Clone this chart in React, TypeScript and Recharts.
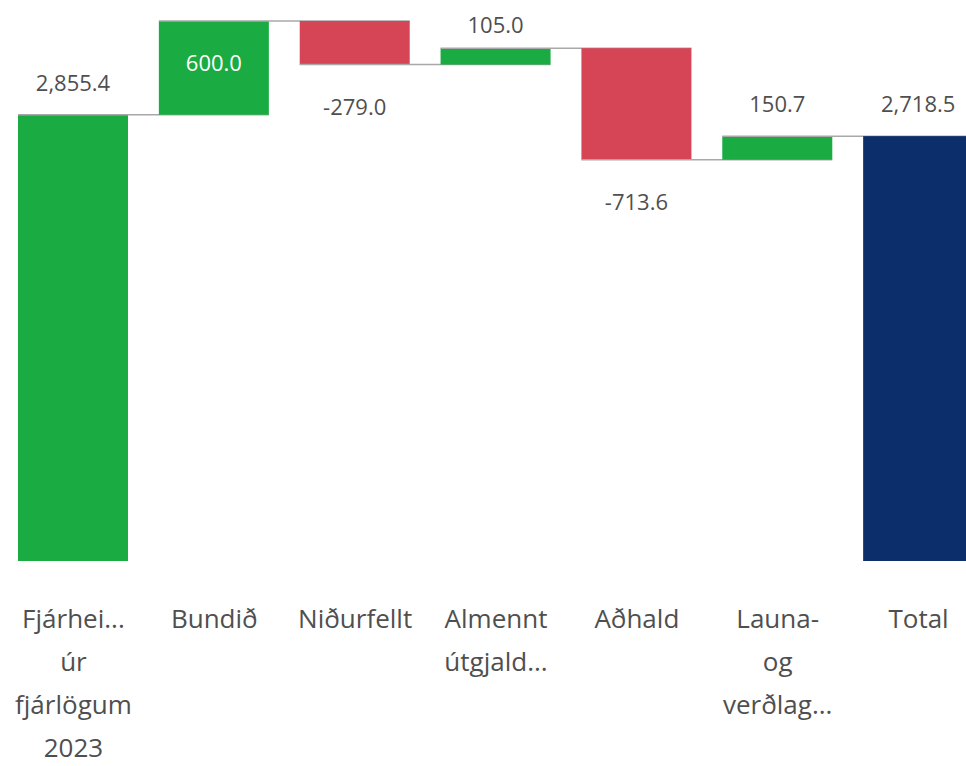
import React from 'react';
import {Bar, BarChart, XAxis, YAxis} from 'recharts';

const categories = [
  'Fjárhei...\núr\nfjárlögum\n2023',
  'Bundið',
  'Niðurfellt',
  'Almennt\nútgjald...',
  'Aðhald',
  'Launa-\nog\nverðlag...',
  'Total',
];
const changes = [2855.4, 600.0, -279.0, 105.0, -713.6, 150.7, 2718.5];
const kinds = ['total', 'up', 'down', 'up', 'down', 'up', 'total'];

const COLORS: { [key: string]: string } = {
  up: '#1AAB43',
  down: '#D64556',
  total: '#0C2F6B',
  start: '#1AAB43',
};

const CHART_W = 989;
const CHART_H = 766;
const MARGIN = {top: 14, right: 0, bottom: 0, left: 3};
const STEP = (CHART_W - MARGIN.left - MARGIN.right) / categories.length;
const FONT = '"Open Sans", "Noto Sans", sans-serif';
const TEXT = '#4f4f4f';

interface IRow {
  name: string;
  kind: string;
  delta: number;
  base: number;
  size: number;
}

const buildRows = (): IRow[] => {
  let running = 0;
  return categories.map((name, i) => {
    const d = changes[i];
    let kind = kinds[i];
    if (kind === 'total') {
      running = d;
      // first column is the starting amount, drawn green like the increases
      if (i === 0) kind = 'start';
      return {name, kind, delta: d, base: 0, size: d};
    }
    const start = running;
    running = start + d;
    return {name, kind, delta: d, base: Math.min(start, running), size: Math.abs(d)};
  });
};

const data = buildRows();

const fmt = (v: number) => v.toLocaleString('en-US', {minimumFractionDigits: 1, maximumFractionDigits: 1});

const WaterfallBar = (props: any) => {
  const {x, y, width, height, payload, index} = props;
  const row: IRow = payload;
  const negative = row.delta < 0;
  const level = negative ? y + height : y;
  const isLast = index === data.length - 1;

  let labelY = negative ? y + height + 50 : Math.max(y - 24, 33);
  let labelFill = TEXT;
  if (!negative && y < 30) {
    // no room above the bar, so the label goes inside
    labelY = y + 50;
    labelFill = '#ffffff';
  }

  return (
    <g>
      <rect x={x} y={y} width={width} height={height} fill={COLORS[row.kind]}/>
      {!isLast && <line
        x1={x}
        x2={x + STEP + width}
        y1={level}
        y2={level}
        stroke="#a8a8a8"
        strokeWidth={1.5}
      />}
      <text
        x={x + width / 2}
        y={labelY}
        textAnchor="middle"
        fontFamily={FONT}
        fontSize={22}
        fill={labelFill}
      >
        {fmt(row.delta)}
      </text>
    </g>
  );
};

const CategoryTick = (props: any) => {
  const {x, y, payload} = props;
  const lines = String(payload.value).split('\n');
  return (
    <text x={x} y={y} textAnchor="middle" fontFamily={FONT} fontSize={26} fill={TEXT}>
      {lines.map((line, i) => <tspan key={i} x={x} dy={i === 0 ? 67 : 43}>{line}</tspan>)}
    </text>
  );
};

const App = () => {
  return (
    <div style={{position: 'absolute', left: 0, top: 0, width: 966, height: 766, overflow: 'hidden', background: '#fff'}}>
      <BarChart width={CHART_W} height={CHART_H} data={data} margin={MARGIN} barSize={110}>
        <XAxis
          dataKey="name"
          axisLine={false}
          tickLine={false}
          tickSize={0}
          tickMargin={0}
          interval={0}
          height={205}
          tick={<CategoryTick/>}
        />
        <YAxis hide domain={[0, 3500]} type="number" allowDataOverflow/>
        <Bar dataKey="base" stackId="w" fill="transparent" isAnimationActive={false}/>
        <Bar dataKey="size" stackId="w" shape={(p: any) => <WaterfallBar {...p}/>} isAnimationActive={false}/>
      </BarChart>
    </div>
  );
};

export default App;
